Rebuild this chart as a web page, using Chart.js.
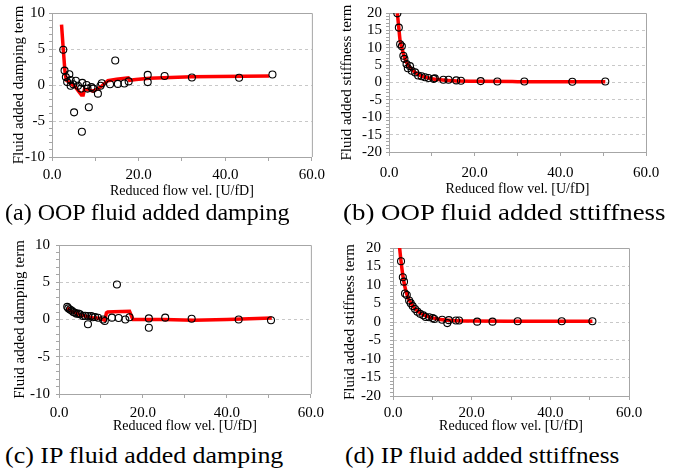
<!DOCTYPE html>
<html>
<head>
<meta charset="utf-8">
<script src="https://cdn.jsdelivr.net/npm/chart.js@4.4.0/dist/chart.umd.min.js"></script>
<style>
  body { margin: 0; background: #fff; width: 673px; height: 471px; overflow: hidden; position: relative; font-family: "Liberation Serif", serif; }
  .panel { position: absolute; }
  .cap { position: absolute; font-size: 24px; line-height: 1; white-space: nowrap; color: #000; transform-origin: 0 50%; }
</style>
</head>
<body>
<div class="panel" style="left:0px;top:0px;width:330px;height:200px"><canvas id="chartA"></canvas></div>
<div class="panel" style="left:335px;top:0px;width:338px;height:198px"><canvas id="chartB"></canvas></div>
<div class="panel" style="left:0px;top:230px;width:330px;height:205px"><canvas id="chartC"></canvas></div>
<div class="panel" style="left:338px;top:230px;width:335px;height:205px"><canvas id="chartD"></canvas></div>

<div class="cap" style="left:5px;top:200px">(a) OOP fluid added damping</div>
<div class="cap" style="left:343px;top:200px;transform:scaleX(1.12)">(b) OOP fluid added sttiffness</div>
<div class="cap" style="left:5px;top:443px;transform:scaleX(1.08)">(c) IP fluid added damping</div>
<div class="cap" style="left:345px;top:443px;transform:scaleX(1.05)">(d) IP fluid added sttiffness</div>

<script>
// ---- DATA ----
const xTickLabels = [0, 20, 40, 60];

// (a) OOP fluid added damping
const oopDampX = [2.6, 2.9, 3.2, 3.5, 4.0, 4.3, 4.3, 4.9, 5.5, 6.0, 6.7, 7.0, 8.0, 8.2, 9.1, 9.5, 10.6, 11.2, 11.5, 5.1, 6.9, 8.5, 13.4, 14.6, 15.2, 16.7, 17.7, 22.1, 22.1, 26.0, 32.3, 43.2, 50.9];
const oopDampY = [4.9, 2.0, 1.1, 0.4, 1.5, 0.7, -0.1, 0.1, 0.6, -0.1, -0.5, 0.3, 0.0, -0.5, -0.3, -0.5, -1.2, -0.1, 0.25, -3.8, -6.5, -3.1, 0.1, 3.4, 0.15, 0.2, 0.5, 1.4, 0.4, 1.25, 1.05, 1.0, 1.45];
const oopDampFitX = [2.2, 2.6, 3.0, 3.3, 4.1, 5.3, 6.3, 6.8, 7.2, 7.5, 8.3, 9.5, 10.1, 11.4, 12.2, 12.9, 14.9, 17.6, 17.9, 19.4, 22.5, 32.3, 50.1];
const oopDampFitY = [8.4, 5.0, 1.8, 0.7, 0.3, -0.2, -1.0, -1.4, -1.4, -0.6, -0.65, -0.85, -0.65, -0.2, 0.25, 0.6, 0.8, 1.0, 0.65, 0.75, 0.93, 1.15, 1.25];

// (b) OOP fluid added stiffness
const oopStiffX = [1.95, 2.3, 2.6, 3.0, 3.35, 3.6, 4.1, 4.4, 4.9, 5.3, 6.1, 6.8, 7.6, 8.4, 9.2, 10.4, 10.7, 12.7, 13.9, 15.7, 16.8, 21.4, 25.3, 31.6, 42.8, 50.5];
const oopStiffY = [19.9, 15.8, 11.0, 10.4, 7.7, 6.8, 5.3, 4.1, 4.7, 3.4, 2.9, 2.0, 1.8, 1.5, 1.3, 1.05, 1.2, 0.8, 0.8, 0.6, 0.5, 0.4, 0.3, 0.3, 0.2, 0.3];
const oopStiffFitX = [1.95, 2.3, 2.6, 3.0, 3.5, 4.0, 5.0, 6.0, 7.0, 8.0, 10.0, 12.0, 15.0, 20.0, 30.0, 50.5];
const oopStiffFitY = [19.9, 15.6, 12.0, 10.0, 7.6, 6.0, 4.2, 3.0, 2.2, 1.7, 1.1, 0.8, 0.5, 0.35, 0.25, 0.2];

// (c) IP fluid added damping
const ipDampX = [1.96, 2.2, 2.6, 3.0, 3.4, 3.8, 4.2, 4.6, 5.0, 5.7, 6.2, 6.9, 6.9, 7.7, 8.0, 8.6, 9.3, 10.5, 10.9, 12.6, 13.8, 14.2, 15.8, 16.8, 21.4, 21.4, 25.3, 31.6, 42.8, 50.5];
const ipDampY = [1.7, 1.5, 1.35, 1.2, 1.0, 0.9, 0.77, 0.8, 0.7, 0.46, 0.5, 0.46, -0.64, 0.46, 0.3, 0.33, 0.24, 0.0, -0.2, 0.25, 4.7, 0.2, 0.0, 0.3, 0.15, -1.1, 0.25, 0.1, 0.0, -0.1];
const ipDampFitX = [1.9, 3.0, 4.0, 5.0, 6.0, 7.0, 8.0, 9.0, 10.0, 10.9, 11.3, 11.6, 13.0, 16.8, 17.6, 20.0, 25.0, 32.0, 40.0, 50.7];
const ipDampFitY = [1.6, 1.1, 0.85, 0.65, 0.5, 0.35, 0.25, 0.2, 0.1, -0.1, 0.9, 1.0, 1.05, 1.1, 0.0, 0.0, 0.0, -0.1, 0.0, 0.2];

// (d) IP fluid added stiffness
const ipStiffX = [2.04, 2.5, 2.8, 3.05, 3.5, 4.1, 4.5, 5.0, 5.6, 6.2, 6.9, 7.7, 8.3, 9.2, 10.1, 10.5, 12.5, 13.8, 14.2, 16.0, 16.8, 21.4, 25.3, 31.7, 42.9, 50.7];
const ipStiffY = [16.4, 12.1, 10.9, 7.7, 7.3, 5.8, 5.1, 4.3, 3.5, 2.8, 2.2, 1.8, 1.35, 1.3, 1.1, 0.8, 0.6, -0.3, 0.5, 0.4, 0.4, 0.1, 0.1, 0.2, 0.2, 0.2];
const ipStiffFitX = [1.5, 2.0, 2.5, 3.0, 3.5, 4.0, 5.0, 6.0, 7.0, 8.0, 10.0, 12.0, 15.0, 20.0, 30.0, 50.7];
const ipStiffFitY = [22, 16.8, 12.6, 9.6, 7.6, 6.2, 4.4, 3.2, 2.4, 1.8, 1.1, 0.7, 0.4, 0.25, 0.2, 0.2];

const FONT = 'Liberation Serif';
const AXIS_GRAY = '#a6a6a6';
const GRID_GRAY = '#c8c8c8';

const toPoints = (xs, ys) => xs.map((x, i) => ({ x: x, y: ys[i] }));

// top + right edges of the plot box
const framePlugin = {
    id: 'frame',
    beforeDatasetsDraw(chart) {
        const { ctx, chartArea: a } = chart;
        ctx.save();
        ctx.strokeStyle = AXIS_GRAY;
        ctx.lineWidth = 1;
        ctx.beginPath();
        ctx.moveTo(a.left, a.top + 0.5);
        ctx.lineTo(a.right + 0.5, a.top + 0.5);
        ctx.lineTo(a.right + 0.5, a.bottom);
        ctx.stroke();
        ctx.restore();
    }
};

function makePanel(id, p) {
    const ctx = document.getElementById(id).getContext('2d');
    return new Chart(ctx, {
        type: 'scatter',
        data: {
            datasets: [
                {
                    data: toPoints(p.xs, p.ys),
                    pointRadius: 3.5,
                    pointBackgroundColor: 'rgba(0,0,0,0)',
                    pointBorderColor: '#000',
                    pointBorderWidth: 1.1,
                    order: 0
                },
                {
                    data: toPoints(p.fitX, p.fitY),
                    showLine: true,
                    borderColor: '#ff0000',
                    borderWidth: 3.5,
                    pointRadius: 0,
                    tension: 0,
                    cubicInterpolationMode: p.smooth ? 'monotone' : 'default',
                    order: 1
                }
            ]
        },
        options: {
            animation: false,
            responsive: true,
            maintainAspectRatio: false,
            devicePixelRatio: 1,
            layout: { padding: { top: p.padTop, right: p.padRight, left: 0, bottom: 0 } },
            plugins: { legend: { display: false }, tooltip: { enabled: false } },
            scales: {
                x: {
                    type: 'linear',
                    min: 0, max: 60,
                    afterFit: s => { s.height = p.xAxisH; },
                    ticks: {
                        stepSize: 10,
                        autoSkip: false,
                        maxRotation: 0,
                        padding: p.xTickPad,
                        color: '#000',
                        font: { family: FONT, size: 15 },
                        callback: v => xTickLabels.includes(v) ? v.toFixed(1) : ''
                    },
                    grid: { drawOnChartArea: false, drawTicks: true, tickLength: 4, tickColor: AXIS_GRAY },
                    border: { color: AXIS_GRAY },
                    title: {
                        display: true,
                        text: 'Reduced flow vel. [U/fD]',
                        color: '#000',
                        font: { family: FONT, size: 14 },
                        padding: { top: 0, bottom: 0 }
                    }
                },
                y: {
                    min: p.yMin, max: p.yMax,
                    afterFit: s => { s.width = p.yAxisW; },
                    ticks: {
                        stepSize: 1,
                        autoSkip: false,
                        padding: p.yTickPad,
                        color: '#000',
                        font: { family: FONT, size: 15 },
                        callback: v => (v % p.yStep === 0) ? String(v) : ''
                    },
                    grid: {
                        drawTicks: true,
                        tickLength: 3,
                        tickColor: AXIS_GRAY,
                        color: c => (c.tick && c.tick.value % p.yStep === 0) ? GRID_GRAY : 'rgba(0,0,0,0)'
                    },
                    border: { color: AXIS_GRAY, dash: [3, 3] },
                    title: {
                        display: true,
                        text: p.yTitle,
                        color: '#000',
                        font: { family: FONT, size: 15 },
                        padding: { top: p.yTitlePad, bottom: 0 }
                    }
                }
            }
        },
        plugins: [framePlugin]
    });
}

makePanel('chartA', {
    xs: oopDampX, ys: oopDampY, fitX: oopDampFitX, fitY: oopDampFitY,
    yMin: -10, yMax: 10, yStep: 5, yTitle: 'Fluid added damping term',
    padTop: 10, padRight: 17, yAxisW: 52, xAxisH: 43, xTickPad: 5, yTickPad: 4, yTitlePad: 10
});
makePanel('chartB', {
    xs: oopStiffX, ys: oopStiffY, fitX: oopStiffFitX, fitY: oopStiffFitY, smooth: true,
    yMin: -20, yMax: 20, yStep: 5, yTitle: 'Fluid added stiffness term',
    padTop: 12, padRight: 27, yAxisW: 54, xAxisH: 46, xTickPad: 8, yTickPad: 4, yTitlePad: 3
});
makePanel('chartC', {
    xs: ipDampX, ys: ipDampY, fitX: ipDampFitX, fitY: ipDampFitY,
    yMin: -10, yMax: 10, yStep: 5, yTitle: 'Fluid added damping term',
    padTop: 13, padRight: 17, yAxisW: 59, xAxisH: 41, xTickPad: 6, yTickPad: 6, yTitlePad: 11
});
makePanel('chartD', {
    xs: ipStiffX, ys: ipStiffY, fitX: ipStiffFitX, fitY: ipStiffFitY, smooth: true,
    yMin: -20, yMax: 20, yStep: 5, yTitle: 'Fluid added stiffness term',
    padTop: 8, padRight: 44, yAxisW: 55, xAxisH: 39, xTickPad: 4, yTickPad: 9, yTitlePad: 3
});
</script>
</body>
</html>
